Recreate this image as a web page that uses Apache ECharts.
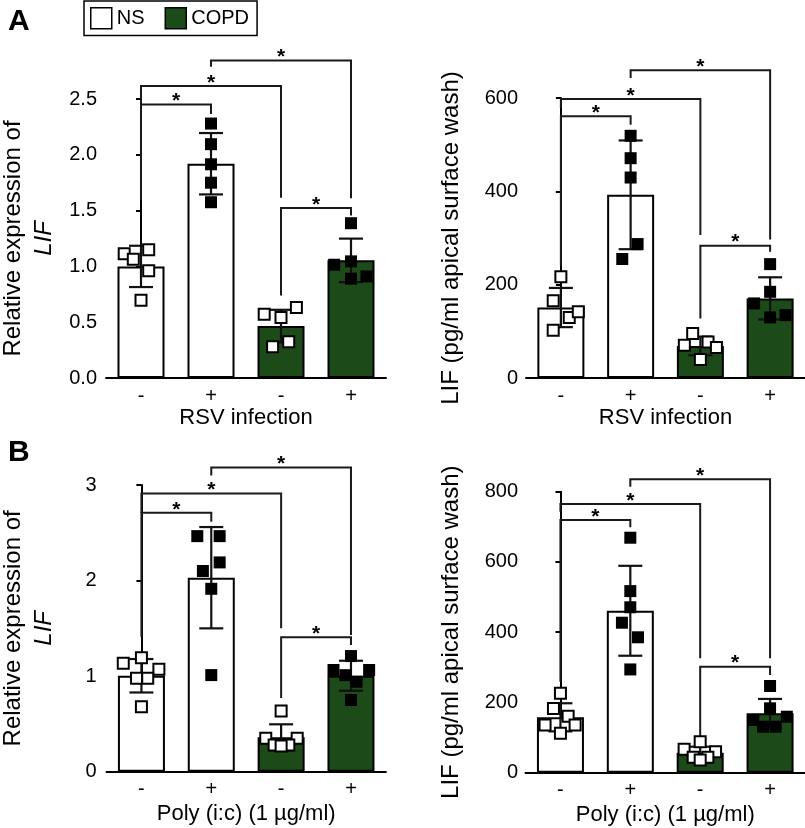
<!DOCTYPE html>
<html><head><meta charset="utf-8">
<script src="https://cdn.jsdelivr.net/npm/echarts@6/dist/echarts.min.js"></script>
<style>html,body{margin:0;padding:0;background:#fff}#c{width:805px;height:828px}</style>
</head><body><div id="c"></div>
<script>
const FONT = '"Liberation Sans", Arial, Helvetica, sans-serif';
const INK = '#000';
const GREEN = '#1c4a18';

// ---------- data ----------
const categories = ['-', '+', '-', '+'];
const groupNames = ['NS', 'COPD'];

// Panel A, left: Relative expression of LIF (RSV infection)
const a1Means = [1.00, 1.92, 0.465, 1.054];
const a1Sd = [0.185, 0.275, 0.146, 0.195];
const a1Points = [[1.113, 1.063, 1.149, 0.96, 0.696], [2.28, 2.095, 1.915, 1.75, 1.575], [0.571, 0.542, 0.631, 0.28, 0.324], [1.387, 1.015, 1.045, 0.89, 0.91]];
const a1Jitter = [[-0.24, -0.11, 0.11, 0.11, 0], [0, 0, 0, 0, 0], [-0.24, 0, 0.22, -0.12, 0.11], [0, -0.24, 0, 0, 0.22]];
const a1Brackets = [[0, 1, 2.45, 1.59, 2.366], [0, 2, 2.616, 2.45, 1.616], [1, 3, 2.845, 2.79, 1.61], [2, 3, 1.524, 0.74, 1.455]];

// Panel A, right: LIF protein (RSV infection)
const a2Means = [151, 392.5, 68.7, 170.6];
const a2Sd = [42, 116.5, 20, 45.2];
const a2Points = [[217, 165.4, 129.8, 141.8, 102.5], [519, 471, 429.6, 287, 255], [95.4, 70.2, 77.3, 65.3, 39.5], [244, 184.7, 159.8, 129.8, 134.7]];
const a2Jitter = [[0, -0.11, 0.12, 0.25, -0.11], [0, 0, 0, 0.1, -0.12], [-0.11, -0.23, 0.11, 0.23, 0], [0, 0, -0.23, 0, 0.22]];
const a2Brackets = [[0, 1, 560.7, 240.6, 542.8], [0, 2, 598, 578.7, 306.5], [1, 3, 659.5, 643, 297], [2, 3, 283.6, 127.6, 270.7]];

// Panel B, left: Relative expression of LIF (Poly (i:c))
const b1Means = [1.004, 2.03, 0.36, 1.004];
const b1Sd = [0.175, 0.53, 0.136, 0.157];
const b1Points = [[1.134, 1.193, 1.071, 0.977, 0.977, 0.68], [2.465, 2.465, 2.19, 2.10, 1.914, 1.011], [0.635, 0.349, 0.349, 0.279, 0.279, 0.27], [1.21, 1.064, 1.064, 1.01, 0.941, 0.75]];
const b1Jitter = [[-0.26, 0, 0.25, -0.07, 0.09, 0], [-0.2, 0.12, 0.12, -0.12, 0, 0], [0, -0.22, 0.23, -0.1, 0.11, 0], [0, -0.25, 0.26, -0.08, 0.08, 0]];
const b1Brackets = [[0, 1, 2.71, 1.412, 2.615], [0, 2, 2.912, 2.71, 1.50], [1, 3, 3.184, 3.10, 1.43], [2, 3, 1.406, 0.77, 1.325]];

// Panel B, right: LIF protein (Poly (i:c))
const b2Means = [157.7, 461, 57, 169];
const b2Sd = [40, 128, 17, 41];
const b2Points = [[226, 183, 161, 135.8, 135.8, 112], [669, 517, 471, 427, 385.5, 294], [88.3, 66.6, 59.8, 43.8, 43.8, 36.2], [246.8, 183.3, 150, 159.4, 131, 131]];
const b2Jitter = [[0, -0.1, 0.11, -0.22, 0.21, 0], [0, 0, 0, -0.12, 0.11, 0], [0, -0.23, 0.22, -0.1, 0.11, 0], [0, 0, -0.24, 0.24, -0.1, 0.08]];
const b2Brackets = [[0, 1, 719.4, 259, 698.6], [0, 2, 765, 743, 325.7], [1, 3, 835.3, 814, 325.7], [2, 3, 301.8, 102.5, 278]];

const yTicksA1 = { max: 2.5, interval: 0.5, decimals: 1 };
const yTicksA2 = { max: 600, interval: 200, decimals: 0 };
const yTicksB1 = { max: 3, interval: 1, decimals: 0 };
const yTicksB2 = { max: 800, interval: 200, decimals: 0 };

const xTitleA = 'RSV infection';
const xTitleB = 'Poly (i:c) (1 µg/ml)';
const yTitleRel = '{a|Relative expression of}\n{b|LIF}';
const yTitleProt = 'LIF (pg/ml apical surface wash)';

// ---------- layout ----------
const panels = [
  { grid: { left: 106, top: 99, width: 280, height: 279 }, yOff: 2, means: a1Means, sd: a1Sd, pts: a1Points, jit: a1Jitter, br: a1Brackets, ticks: yTicksA1, xName: xTitleA, xGap: 27, yName: yTitleRel, yGap: 44 },
  { grid: { left: 526, top: 98, width: 280, height: 280 }, yOff: 1, means: a2Means, sd: a2Sd, pts: a2Points, jit: a2Jitter, br: a2Brackets, ticks: yTicksA2, xName: xTitleA, xGap: 27, yName: yTitleProt, yGap: 62 },
  { grid: { left: 99.5, top: 485, width: 286.4, height: 286.7 }, yOff: 3, means: b1Means, sd: b1Sd, pts: b1Points, jit: b1Jitter, br: b1Brackets, ticks: yTicksB1, xName: xTitleB, xGap: 31, yName: yTitleRel, yGap: 44 },
  { grid: { left: 525.5, top: 491.7, width: 281.6, height: 281 }, yOff: 0.5, means: b2Means, sd: b2Sd, pts: b2Points, jit: b2Jitter, br: b2Brackets, ticks: yTicksB2, xName: xTitleB, xGap: 31, yName: yTitleProt, yGap: 62 }
];

function errRender(params, api) {
  const x = api.value(0), m = api.value(1), s = api.value(2);
  const t = api.coord([x, m + s]), b = api.coord([x, m - s]);
  const hw = 12, st = { stroke: '#111', lineWidth: 2.2 };
  return { type: 'group', children: [
    { type: 'line', shape: { x1: t[0], y1: t[1], x2: b[0], y2: b[1] }, style: st },
    { type: 'line', shape: { x1: t[0] - hw, y1: t[1], x2: t[0] + hw, y2: t[1] }, style: st },
    { type: 'line', shape: { x1: b[0] - hw, y1: b[1], x2: b[0] + hw, y2: b[1] }, style: st }
  ] };
}
function bracketRender(params, api) {
  const x1 = api.value(0), x2 = api.value(1), yt = api.value(2), yl = api.value(3), yr = api.value(4);
  const pL = api.coord([x1, yl]), pTL = api.coord([x1, yt]), pTR = api.coord([x2, yt]), pR = api.coord([x2, yr]);
  return { type: 'group', children: [
    { type: 'polyline', shape: { points: [pL, pTL, pTR, pR] }, style: { stroke: '#1a1a1a', lineWidth: 2, fill: 'none' } },
    { type: 'text', x: (pTL[0] + pTR[0]) / 2, y: pTL[1] - 3, style: { text: '*', fontSize: 21, fontWeight: 'bold', fontFamily: FONT, fill: INK, align: 'center', verticalAlign: 'middle' } }
  ] };
}

const grid = [], xAxis = [], yAxis = [], series = [];
panels.forEach((p, i) => {
  grid.push(p.grid);
  xAxis.push({
    type: 'category', gridIndex: i, data: categories,
    name: p.xName, nameLocation: 'middle', nameGap: p.xGap,
    nameTextStyle: { fontSize: 22, fontFamily: FONT, color: INK },
    axisLine: { lineStyle: { color: INK, width: 2 } },
    axisTick: { alignWithLabel: true, length: 5, lineStyle: { color: INK, width: 2 } },
    axisLabel: { fontSize: 20, fontFamily: FONT, color: INK, margin: 8 }
  });
  xAxis.push({ type: 'value', gridIndex: i, min: -0.5, max: 3.5, show: false });
  yAxis.push({
    type: 'value', gridIndex: i, min: 0, max: p.ticks.max, interval: p.ticks.interval, offset: p.yOff,
    name: p.yName, nameLocation: 'middle', nameGap: p.yGap, nameRotate: 90,
    nameTextStyle: { fontSize: 24, fontFamily: FONT, color: INK,
      rich: { a: { fontSize: 24, fontFamily: FONT, color: INK, lineHeight: 31 }, b: { fontSize: 24, fontFamily: FONT, color: INK, fontStyle: 'italic', lineHeight: 31 } } },
    splitLine: { show: false },
    axisLine: { show: true, lineStyle: { color: INK, width: 2 } },
    axisTick: { show: true, length: 5, lineStyle: { color: INK, width: 2 } },
    axisLabel: { fontSize: 20, fontFamily: FONT, color: INK, margin: 7, formatter: v => v.toFixed(p.ticks.decimals) }
  });
  const xc = 2 * i, xv = 2 * i + 1;
  series.push({
    name: groupNames[0], type: 'bar', xAxisIndex: xc, yAxisIndex: i, barWidth: 47, barGap: '-100%', z: 2,
    itemStyle: { color: '#fff', borderColor: INK, borderWidth: 2 },
    data: p.means.map((v, k) => k < 2 ? v : '-')
  });
  series.push({
    name: groupNames[1], type: 'bar', xAxisIndex: xc, yAxisIndex: i, barWidth: 47, barGap: '-100%', z: 2,
    itemStyle: { color: GREEN, borderColor: INK, borderWidth: 2 },
    data: p.means.map((v, k) => k >= 2 ? v : '-')
  });
  series.push({
    type: 'custom', xAxisIndex: xv, yAxisIndex: i, z: 3, renderItem: errRender,
    data: p.means.map((m, k) => [k, m, p.sd[k]])
  });
  const open = [], filled = [];
  p.pts.forEach((arr, k) => arr.forEach((v, j) => (k % 2 === 0 ? open : filled).push([k + p.jit[k][j], v])));
  series.push({
    type: 'scatter', xAxisIndex: xv, yAxisIndex: i, z: 5, symbol: 'rect', symbolSize: 11,
    itemStyle: { color: '#fff', borderColor: INK, borderWidth: 2, opacity: 1 }, data: open
  });
  series.push({
    type: 'scatter', xAxisIndex: xv, yAxisIndex: i, z: 5, symbol: 'rect', symbolSize: 12,
    itemStyle: { color: '#000', borderColor: '#000', borderWidth: 0, opacity: 1 }, data: filled
  });
  series.push({
    type: 'custom', xAxisIndex: xv, yAxisIndex: i, z: 4, renderItem: bracketRender, data: p.br
  });
});

const chart = echarts.init(document.getElementById('c'), null, { renderer: 'canvas' });
chart.setOption({
  animation: false,
  backgroundColor: '#fff',
  textStyle: { fontFamily: FONT },
  legend: {
    data: groupNames, left: 84, top: 1, icon: 'rect', itemWidth: 21, itemHeight: 21, itemGap: 20,
    padding: [6, 8, 6, 6], borderColor: INK, borderWidth: 1.5, selectedMode: false,
    itemStyle: { borderColor: INK, borderWidth: 1.5 },
    textStyle: { fontSize: 20, fontFamily: FONT, color: INK }
  },
  graphic: [
    { type: 'text', left: 8, top: 7, style: { text: 'A', font: 'bold 30px ' + FONT, fill: INK } },
    { type: 'text', left: 8, top: 438, style: { text: 'B', font: 'bold 30px ' + FONT, fill: INK } }
  ],
  grid, xAxis, yAxis, series
});
</script></body></html>
